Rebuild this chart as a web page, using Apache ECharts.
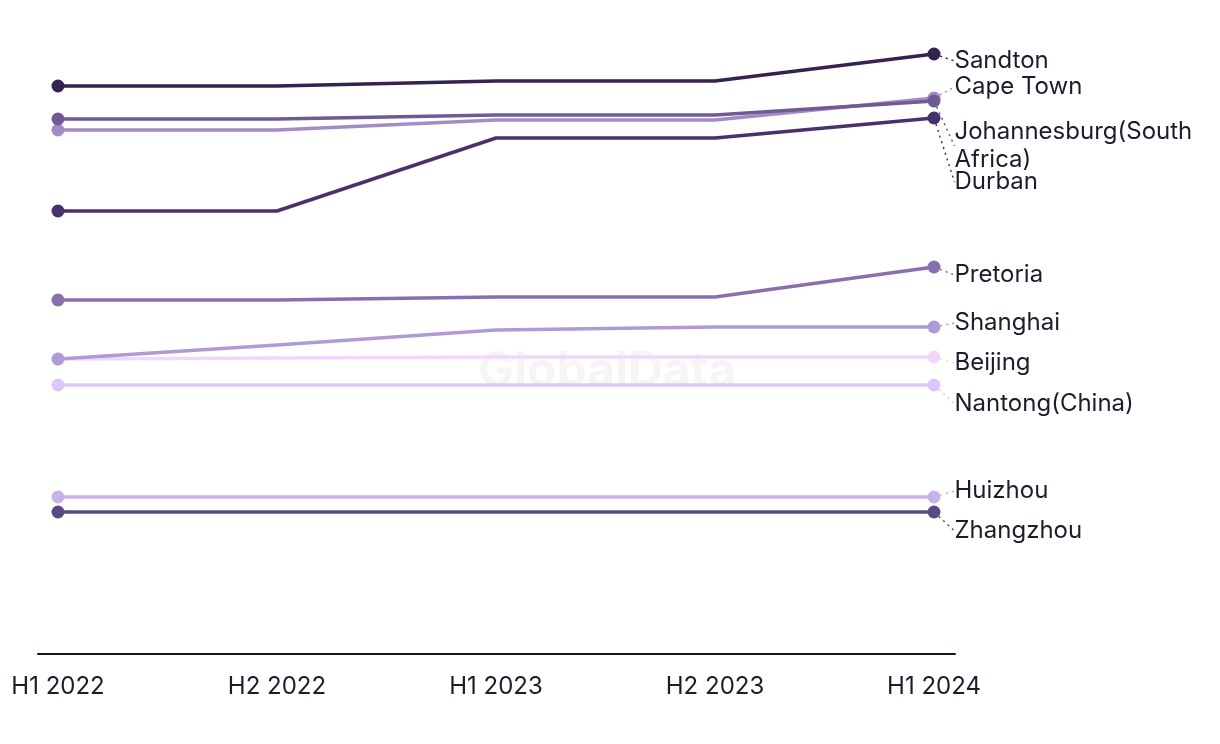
<!DOCTYPE html>
<html>
<head>
<meta charset="utf-8">
<script src="https://cdn.jsdelivr.net/npm/echarts@6/dist/echarts.min.js"></script>
<style>html,body{margin:0;padding:0;background:#fff}#c{width:1220px;height:744px}</style>
</head>
<body>
<div id="c"></div>
<script>
const categories = ['H1 2022', 'H2 2022', 'H1 2023', 'H2 2023', 'H1 2024'];
const seriesNames = ['Sandton', 'Johannesburg(South Africa)', 'Cape Town', 'Durban', 'Pretoria', 'Shanghai', 'Beijing', 'Nantong(China)', 'Huizhou', 'Zhangzhou'];
const sandton = [56.8, 56.8, 57.3, 57.3, 60.0];
const johannesburg = [53.5, 53.5, 53.9, 53.9, 55.3];
const capeTown = [52.4, 52.4, 53.4, 53.4, 55.6];
const durban = [44.3, 44.3, 51.6, 51.6, 53.6];
const pretoria = [35.4, 35.4, 35.7, 35.7, 38.7];
const shanghai = [29.5, 30.9, 32.4, 32.7, 32.7];
const beijing = [29.5, 29.6, 29.7, 29.7, 29.7];
const nantong = [26.9, 26.9, 26.9, 26.9, 26.9];
const huizhou = [15.7, 15.7, 15.7, 15.7, 15.7];
const zhangzhou = [14.2, 14.2, 14.2, 14.2, 14.2];
const values = [sandton, johannesburg, capeTown, durban, pretoria, shanghai, beijing, nantong, huizhou, zhangzhou];

// styling
const colors = ['#36224f', '#6f5a93', '#a38cc6', '#47326b', '#8a6fae', '#b09ad6', '#f1d8fb', '#dcc7fb', '#c8b2ea', '#5b4a81'];
const labelShiftY = [7, 45, -11, 64, 8, -4, 6, 19, -6, 19];

const textColor = '#1c1c2e';
const font = 'Inter, "Noto Sans", sans-serif';
const chart = echarts.init(document.getElementById('c'));

const series = seriesNames.map((name, si) => ({
  name: name,
  type: 'line',
  z: 10 - si,
  symbol: 'circle',
  symbolSize: 13,
  showSymbol: true,
  lineStyle: { width: 3.5, color: colors[si] },
  itemStyle: { color: colors[si] },
  data: values[si].map((v, i) => {
    const last = i === values[si].length - 1;
    const first = i === 0;
    return {
      value: [i, v],
      symbolSize: (first || last) ? 13 : 0,
      label: last ? {
        show: true,
        position: 'right',
        distance: 14,
        formatter: name,
        color: textColor,
        fontSize: 24,
        fontFamily: font,
        width: 245,
        overflow: 'break',
        lineHeight: 28
      } : { show: false }
    };
  }),
  labelLayout: { dy: labelShiftY[si] },
  labelLine: { show: true, length2: 0, lineStyle: { color: colors[si], width: 1.5, type: [2, 4] } },
  emphasis: { disabled: true },
  animation: false
}));

chart.setOption({
  backgroundColor: '#ffffff',
  animation: false,
  grid: { left: 38, right: 265, top: 34, bottom: 90 },
  graphic: [{
    type: 'text',
    left: 478,
    top: 348,
    z: -1,
    style: { text: 'GlobalData', fontSize: 48, fontWeight: 'bold', fill: '#f5f5f5', fontFamily: font }
  }],
  xAxis: {
    type: 'value',
    min: -0.0913,
    max: 4.0959,
    splitLine: { show: false },
    axisTick: { show: false },
    axisLine: { show: true, onZero: false, lineStyle: { color: '#141428', width: 2 } },
    axisLabel: {
      customValues: [0, 1, 2, 3, 4],
      formatter: v => categories[Math.round(v)],
      color: textColor,
      fontSize: 24,
      margin: 21,
      fontFamily: font
    }
  },
  yAxis: {
    type: 'value',
    min: 0,
    max: 62,
    show: false,
    splitLine: { show: false }
  },
  series: series
});
</script>
</body>
</html>
